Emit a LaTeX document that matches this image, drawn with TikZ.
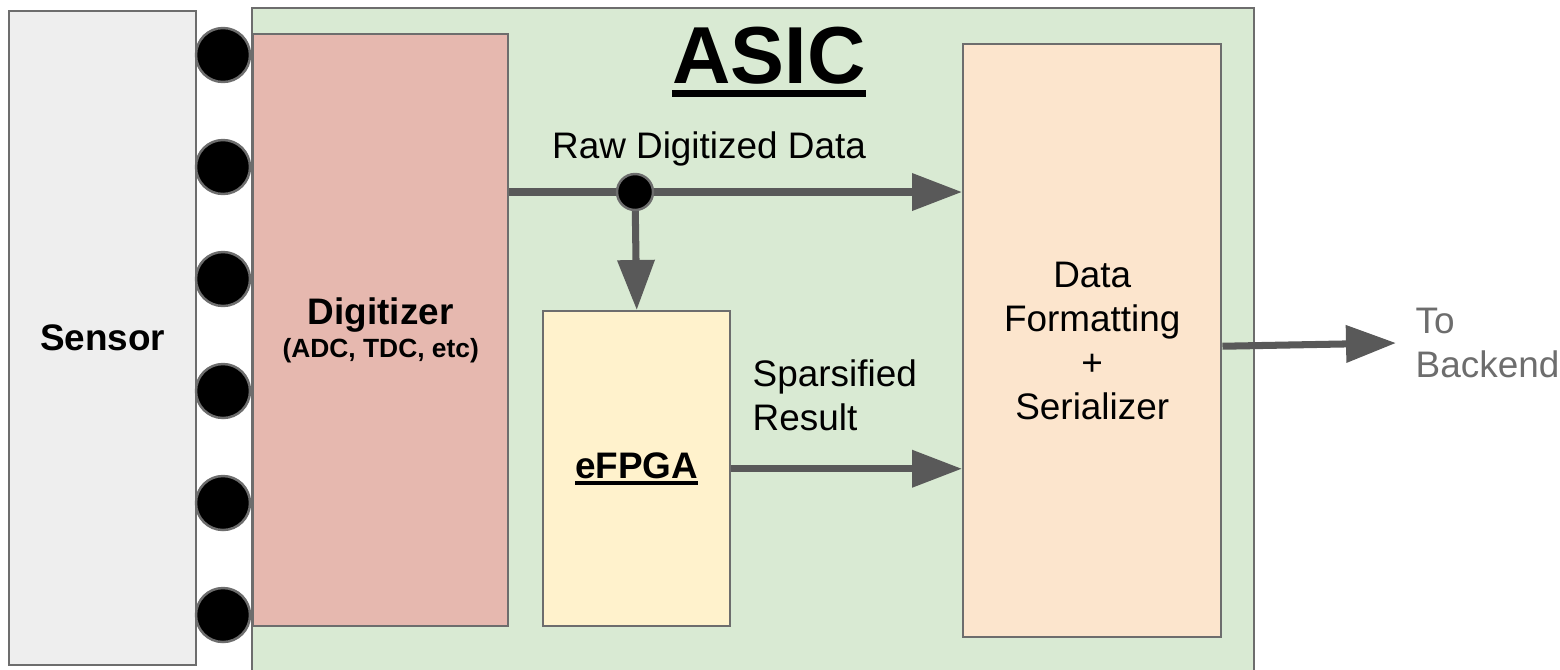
\documentclass[tikz,border=0pt]{standalone}
\usepackage{fontspec}
\setmainfont{Liberation Sans}
\usepackage{xcolor}
\usepackage{tikz}
\usetikzlibrary{arrows.meta,positioning,calc}
\definecolor{edge}{HTML}{6D6D6D}
\definecolor{wire}{HTML}{595959}
\definecolor{sensorgray}{HTML}{EEEEEE}
\definecolor{asicgreen}{HTML}{D9EAD3}
\definecolor{digired}{HTML}{E6B8AF}
\definecolor{fpgayellow}{HTML}{FFF2CC}
\definecolor{fmtorange}{HTML}{FCE5CD}
\newcommand{\ulword}[3]{\setbox0\hbox{#3}\rlap{\copy0}\rule[-\dimexpr#1+#2\relax]{\wd0}{#2}}
\tikzset{
  >={Triangle[length=5mm,width=3.6mm]},
  block/.style={draw=edge, line width=.7pt, inner sep=0pt, align=center,
    font=\fontsize{10.5}{12.5}\selectfont},
  flow/.style={->, line width=2pt, color=wire},
  pin/.style={circle, fill=black, draw=edge, line width=.7pt, minimum size=5.4mm, inner sep=0pt},
  dot/.style={circle, fill=black, draw=edge, line width=.7pt, minimum size=3.6mm, inner sep=0pt},
  lbl/.style={inner sep=0pt, align=left, font=\fontsize{10.5}{12.5}\selectfont}
}

\begin{document}
\begin{tikzpicture}[x=1cm,y=1cm]
  \useasboundingbox (0,0) rectangle (15.6,-6.69);
  \fill[white] (0,0) rectangle (15.6,-6.69);

  % chip outline and blocks
  \node[block,fill=asicgreen,minimum width=10.02cm,minimum height=6.8cm,anchor=north west] (asic) at (2.51,-.07) {};
  \node[block,fill=sensorgray,minimum width=1.87cm,minimum height=6.54cm,anchor=north west] (sensor) at (.08,-.10)
    {\bfseries Sensor};
  \node[block,fill=digired,minimum width=2.55cm,minimum height=5.92cm,anchor=north west] (dig) at (2.52,-.33)
    {\bfseries Digitizer\\[-3pt]{\fontsize{7.5}{9}\selectfont\bfseries (ADC, TDC, etc)}};
  \node[block,fill=fpgayellow,minimum width=1.87cm,minimum height=3.15cm,anchor=north west] (fpga) at (5.42,-3.10)
    {\bfseries\ulword{.9pt}{1pt}{eFPGA}};
  \node[block,fill=fmtorange,minimum width=2.58cm,minimum height=5.93cm,anchor=north west] (fmt) at (9.62,-.43)
    {Data\\Formatting\\+\\Serializer};
  \node[inner sep=0pt,font=\fontsize{23}{27}\selectfont\bfseries] (title) at (7.69,-.62) {\ulword{1.9pt}{2pt}{ASIC}};

  % sensor pads
  \foreach \i in {0,...,5}
    \node[pin] (pin\i) at (2.23,{-.55-1.12*\i}) {};

  % data paths
  \coordinate (jn) at (6.35,-1.92);
  \coordinate (out) at (13.96,-3.43);
  \draw[flow] (dig.east |- jn) -- (jn -| fmt.west);
  \draw[flow] (jn) -- (fpga.north);
  \draw[flow] (fpga.east) -- (fpga.east -| fmt.west);
  \draw[flow] ([yshift=-.055cm]fmt.east) -- (out);
  \node[dot] (tap) at (jn) {};

  \node[lbl] (raw) at (7.09,-1.49) {Raw Digitized Data};
  \node[lbl,anchor=west] (sparse) at (7.52,-3.955) {Sparsified\\Result};
  \node[lbl,right=.19cm of out,text=edge] (backend) {To\\Backend};
\end{tikzpicture}
\end{document}
